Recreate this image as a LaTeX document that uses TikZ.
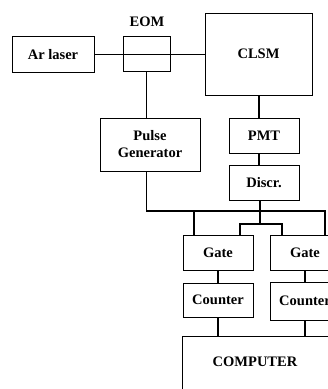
\documentclass[tikz,border=0pt]{standalone}
\usepackage{fontspec}
\setmainfont{Liberation Serif}
\begin{document}
\begin{tikzpicture}[x=1pt,y=-1pt,
  box/.style={draw,line width=1pt,inner sep=0pt,align=center},
  wire/.style={line width=1.1pt},
  every node/.style={font=\fontsize{14.5}{17}\selectfont\bfseries}]
\useasboundingbox (0,0) rectangle (328,389);
\clip (0,0) rectangle (328,389);
% boxes
\node[box,minimum width=82pt,minimum height=36pt] (ar) at (53,54.5) {Ar laser};
\node[box,minimum width=47pt,minimum height=35pt] (eom) at (146.5,53.5) {};
\node (eomlbl) at (147,22) {EOM};
\node[box,minimum width=107pt,minimum height=82pt] (clsm) at (258.5,54) {CLSM};
\node[box,minimum width=100pt,minimum height=53pt] (pg) at (150,144.5) {Pulse\\Generator};
\node[box,minimum width=70pt,minimum height=35pt] (pmt) at (264,135.5) {PMT};
\node[box,minimum width=70pt,minimum height=35pt] (discr) at (264,182.5) {Discr.};
\node[box,minimum width=70pt,minimum height=35pt] (lgate) at (218,252.5) {Gate};
\node[box,minimum width=70pt,minimum height=35pt] (rgate) at (305,252.5) {Gate};
\node[box,minimum width=70pt,minimum height=34pt] (lcount) at (218,300) {Counter};
\node[box,minimum width=70pt,minimum height=38pt] (rcount) at (305,301) {Counter};
\node[box,minimum width=148pt,minimum height=80pt,anchor=north west] (comp) at (182,336) {};
\node (comptxt) at (255,362) {COMPUTER};
% coordinates
\coordinate (busL) at (194,211);
\coordinate (busR) at (325,211);
\coordinate (split) at (260,224);
\coordinate (bl) at (240,224);
\coordinate (br) at (282,224);
% connectors
\draw[wire] (ar.east) -- (ar.east -| clsm.west);
\draw[wire] (eom.south) -- (eom.south |- pg.north);
\draw[wire] (clsm.south -| 259,0) -- (pmt.north -| 259,0);
\draw[wire] (pmt.south -| 259,0) -- (discr.north -| 259,0);
\draw[wire] (pg.south -| eom.south) |- (busR) -- (busR |- rgate.north);
\draw[wire] (busL) -- (busL |- lgate.north);
\draw[wire] (discr.south -| split) -- (split);
\draw[wire] (bl |- lgate.north) -- (bl) -- (br) -- (br |- rgate.north);
\draw[wire] (lgate.south) -- (lcount.north);
\draw[wire] (rgate.south) -- (rcount.north);
\draw[wire] (lcount.south) -- (lcount.south |- comp.north);
\draw[wire] (rcount.south) -- (rcount.south |- comp.north);
\end{tikzpicture}
\end{document}
